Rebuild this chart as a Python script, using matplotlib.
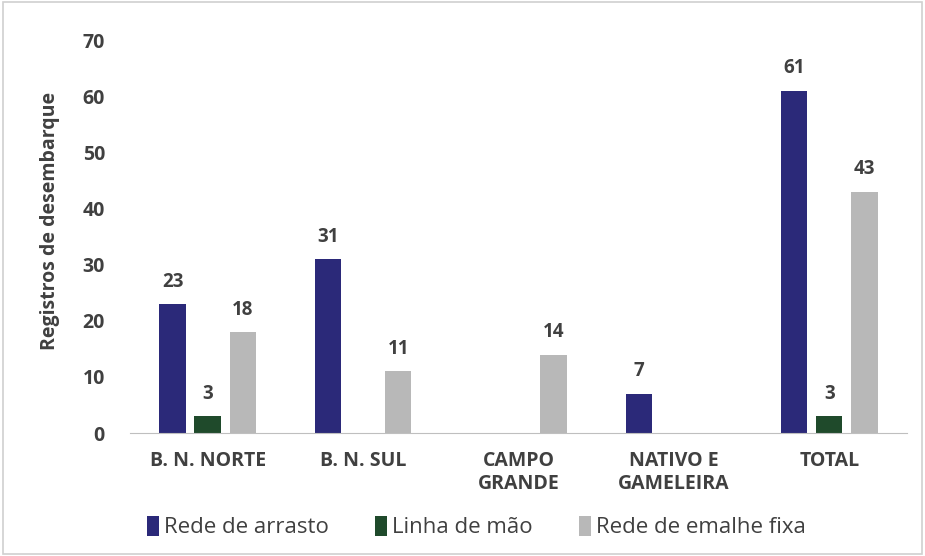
import numpy as np
import matplotlib.pyplot as plt
from matplotlib.patches import Rectangle

# Registros de desembarque por localidade e arte de pesca
categorias = ['B. N. NORTE', 'B. N. SUL', 'CAMPO\nGRANDE', 'NATIVO E\nGAMELEIRA', 'TOTAL']
series = ['Rede de arrasto', 'Linha de mão', 'Rede de emalhe fixa']
arrasto = [23, 31, 0, 7, 61]
linha = [3, 0, 0, 0, 3]
emalhe = [18, 11, 14, 0, 43]

cores = ['#2b2979', '#1f4a2b', '#b8b8b8']
texto = '#404040'

plt.rcParams['font.family'] = ['Open Sans', 'DejaVu Sans']

fig = plt.figure(figsize=(9.25, 5.56), dpi=100)
fig.patches.append(Rectangle((0.003, 0.004), 0.994, 0.992, transform=fig.transFigure,
                             fill=False, edgecolor='#d0d0d0', linewidth=1.2))
ax = fig.add_axes([0.1405, 0.221, 0.84, 0.707])

x = np.arange(len(categorias))
largura = 0.17
passo = 0.226
for i, (vals, nome, cor) in enumerate(zip([arrasto, linha, emalhe], series, cores)):
    pos = x + (i - 1) * passo
    ax.bar(pos, vals, largura, color=cor, label=nome)
    for p, v in zip(pos, vals):
        if v > 0:
            ax.text(p, v + 2.2, str(v), ha='center', va='bottom',
                    fontsize=13.5, fontweight='bold', color=texto)

ax.set_xlim(-0.5, 4.5)
ax.set_ylim(0, 70)
ax.set_yticks(range(0, 71, 10))
ax.set_xticks(x)
ax.set_xticklabels(categorias)
ax.tick_params(axis='both', length=0, labelsize=14, labelcolor=texto, pad=13)
ax.tick_params(axis='y', pad=18)
for lab in ax.get_xticklabels() + ax.get_yticklabels():
    lab.set_fontweight('bold')
for s in ['top', 'right', 'left']:
    ax.spines[s].set_visible(False)
ax.spines['bottom'].set_color('#bfbfbf')

ax.set_ylabel('Registros de desembarque', fontsize=14, fontweight='bold', color=texto)
ax.yaxis.set_label_coords(-0.09, 0.54)

leg = fig.legend(loc='center', bbox_to_anchor=(0.515, 0.052), ncol=3, frameon=False,
                 fontsize=16, handlelength=0.55, handleheight=1.0, handletextpad=0.2,
                 columnspacing=2.1)
for t in leg.get_texts():
    t.set_color(texto)

fig.savefig('out.png', dpi=100)
